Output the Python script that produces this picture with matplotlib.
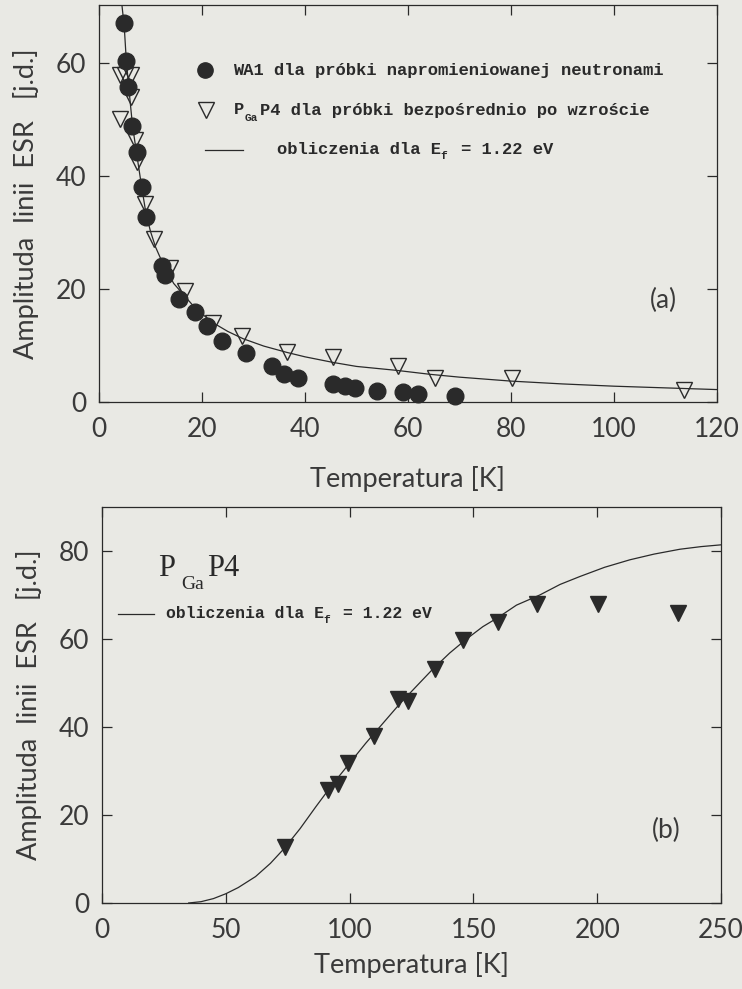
import numpy as np
import matplotlib.pyplot as plt

# dane (a)
T_wa1 = [4.9, 5.2, 5.7, 6.5, 7.3, 8.3, 9.1, 12.2, 12.8, 15.6, 18.6, 20.9, 23.8,
         28.5, 33.5, 35.9, 38.7, 45.5, 47.8, 49.7, 53.9, 59.1, 62.0, 69.1]
A_wa1 = [67.1, 60.4, 55.7, 48.9, 44.3, 38.1, 32.7, 24.1, 22.5, 18.2, 16.0, 13.5, 10.8,
         8.7, 6.4, 5.0, 4.2, 3.2, 2.8, 2.4, 2.0, 1.7, 1.4, 1.1]

T_pga = [4.1, 5.1, 6.2, 6.3, 4.1, 7.0, 7.3, 8.9, 10.7, 13.8, 16.7, 22.2, 27.7,
         36.6, 45.5, 58.1, 65.2, 80.1, 113.5]
A_pga = [57.9, 57.9, 57.9, 54.0, 50.2, 46.4, 42.5, 35.0, 28.8, 23.8, 19.7, 14.0, 11.6,
         8.9, 7.9, 6.4, 4.3, 4.3, 2.2]

T_calc_a = [4.45, 4.9, 5.3, 5.8, 6.5, 7.3, 8.3, 9.1, 10.0, 11.0, 12.5, 14.5, 16.7, 19.0,
            22.2, 25.0, 28.0, 32.0, 36.4, 40.0, 45.5, 50.0, 57.8, 64.3, 70.0, 80.0,
            90.0, 100.0, 110.0, 120.0]
A_calc_a = [70.3, 66.5, 60.5, 55.5, 49.0, 44.0, 38.0, 33.5, 30.2, 27.4, 24.3, 21.0, 18.7, 16.3,
            14.0, 12.5, 11.2, 9.9, 8.8, 8.0, 7.0, 6.3, 5.6, 4.9, 4.4, 3.7,
            3.2, 2.8, 2.5, 2.2]

# dane (b)
T_b = [74.0, 91.2, 95.2, 99.2, 110.0, 119.5, 123.5, 134.3, 145.8, 159.9, 175.5, 200.4, 232.7]
A_b = [12.8, 25.7, 27.0, 31.9, 38.0, 46.3, 45.8, 53.1, 59.8, 63.9, 67.9, 67.9, 65.8]

T_calc_b = [35.0, 40.0, 45.0, 50.0, 55.0, 62.0, 68.0, 73.6, 80.0, 86.4, 93.0, 99.9, 106.5,
            113.4, 120.0, 126.9, 133.5, 140.4, 147.0, 153.8, 160.0, 167.4, 176.8, 185.0,
            193.0, 203.0, 213.2, 223.0, 233.4, 242.0, 250.0]
A_calc_b = [0.0, 0.3, 1.0, 2.1, 3.5, 6.0, 9.0, 12.4, 16.9, 21.9, 26.9, 31.7, 36.3,
            40.8, 45.1, 49.2, 53.1, 56.8, 59.9, 62.8, 64.9, 67.7, 70.0, 72.4,
            74.2, 76.3, 78.0, 79.3, 80.4, 81.0, 81.4]

paper = '#e9e9e4'
ink = '#2a2a2a'
txt = '#3a3a3a'
W, H = 742, 989

plt.rcParams['font.family'] = ['Lato', 'DejaVu Sans']
plt.rcParams['text.color'] = txt
plt.rcParams['axes.edgecolor'] = ink
plt.rcParams['axes.labelcolor'] = txt
plt.rcParams['xtick.color'] = ink
plt.rcParams['ytick.color'] = ink
plt.rcParams['xtick.labelcolor'] = txt
plt.rcParams['ytick.labelcolor'] = txt

fig = plt.figure(figsize=(W / 100, H / 100), dpi=100, facecolor=paper)


def px(x, y):
    return x / W, 1 - y / H


def make_axes(l, r, t, b, xpad):
    ax = fig.add_axes([l / W, 1 - b / H, (r - l) / W, (b - t) / H], facecolor=paper)
    for s in ax.spines.values():
        s.set_linewidth(0.9)
    ax.tick_params(direction='in', length=7.5, width=0.9, top=True, right=True,
                   labelsize=19)
    ax.tick_params(axis='x', pad=11)
    ax.tick_params(axis='y', pad=9)
    ax.set_xlabel('Temperatura [K]', fontsize=19.5, labelpad=xpad)
    ax.set_ylabel('Amplituda  linii  ESR   [j.d.]', fontsize=19.5, labelpad=12)
    return ax


mono = dict(family='Liberation Mono', weight='bold', color=ink)

# --- (a) ---
ax1 = make_axes(99, 717, 5, 402, 17)
ax1.plot(T_calc_a, A_calc_a, color=ink, lw=0.9)
ax1.plot(T_wa1, A_wa1, 'o', ms=12, color=ink, mec=ink, clip_on=False)
ax1.plot(T_pga, A_pga, 'v', ms=11, mfc='none', mec=ink, mew=1.0, clip_on=False)
ax1.set_xlim(0, 120)
ax1.set_ylim(0, 70.3)
ax1.set_xticks(np.arange(0, 121, 20))
ax1.set_yticks(np.arange(0, 61, 20))
ax1.text(*px(663, 300), '(a)', transform=fig.transFigure, fontsize=19,
         ha='center', va='center')

# legenda (a)
fig.lines.append(plt.Line2D([205 / W], [1 - 70 / H], marker='o', ms=11, color=ink,
                            transform=fig.transFigure))
fig.text(*px(233, 70), 'WA1 dla próbki napromieniowanej neutronami', fontsize=12.3,
         va='center', **mono)
fig.lines.append(plt.Line2D([206 / W], [1 - 110 / H], marker='v', ms=11, mfc='none',
                            mec=ink, mew=1.0, transform=fig.transFigure))
fig.text(*px(234, 110), 'P', fontsize=12.3, va='center', **mono)
fig.text(*px(245, 118), 'Ga', fontsize=8, va='center', **mono)
fig.text(*px(260, 110), 'P4 dla próbki bezpośrednio po wzroście', fontsize=12.3,
         va='center', **mono)
fig.lines.append(plt.Line2D([205 / W, 243 / W], [1 - 150 / H] * 2, color=ink, lw=0.9,
                            transform=fig.transFigure))
fig.text(*px(277, 150), 'obliczenia dla E', fontsize=12.3, va='center', **mono)
fig.text(*px(277 + 16 * 10.2, 156), 'f', fontsize=8, va='center', **mono)
fig.text(*px(277 + 18 * 10.2, 150), '= 1.22 eV', fontsize=12.3, va='center', **mono)

# --- (b) ---
ax2 = make_axes(102, 721, 507, 903, 6)
ax2.plot(T_calc_b, A_calc_b, color=ink, lw=0.9)
ax2.plot(T_b, A_b, 'v', ms=11, color=ink, mec=ink, clip_on=False)
ax2.set_xlim(0, 250)
ax2.set_ylim(0, 90)
ax2.set_xticks(np.arange(0, 251, 50))
ax2.set_yticks(np.arange(0, 81, 20))
ax2.text(*px(666, 830), '(b)', transform=fig.transFigure, fontsize=19,
         ha='center', va='center')

serif = dict(family='Liberation Serif', color=ink, weight='normal')
fig.text(*px(158, 576), 'P', fontsize=22, va='baseline', **serif)
fig.text(*px(181, 589), 'Ga', fontsize=14, va='baseline', **serif)
fig.text(*px(207, 576), 'P4', fontsize=22, va='baseline', **serif)

fig.lines.append(plt.Line2D([118 / W, 154 / W], [1 - 614 / H] * 2, color=ink, lw=0.9,
                            transform=fig.transFigure))
fig.text(*px(166, 614), 'obliczenia dla E', fontsize=11.8, va='center', **mono)
fig.text(*px(166 + 16 * 9.85, 620), 'f', fontsize=8, va='center', **mono)
fig.text(*px(166 + 18 * 9.85, 614), '= 1.22 eV', fontsize=11.8, va='center', **mono)

fig.savefig('out.png', dpi=100, facecolor=paper)
